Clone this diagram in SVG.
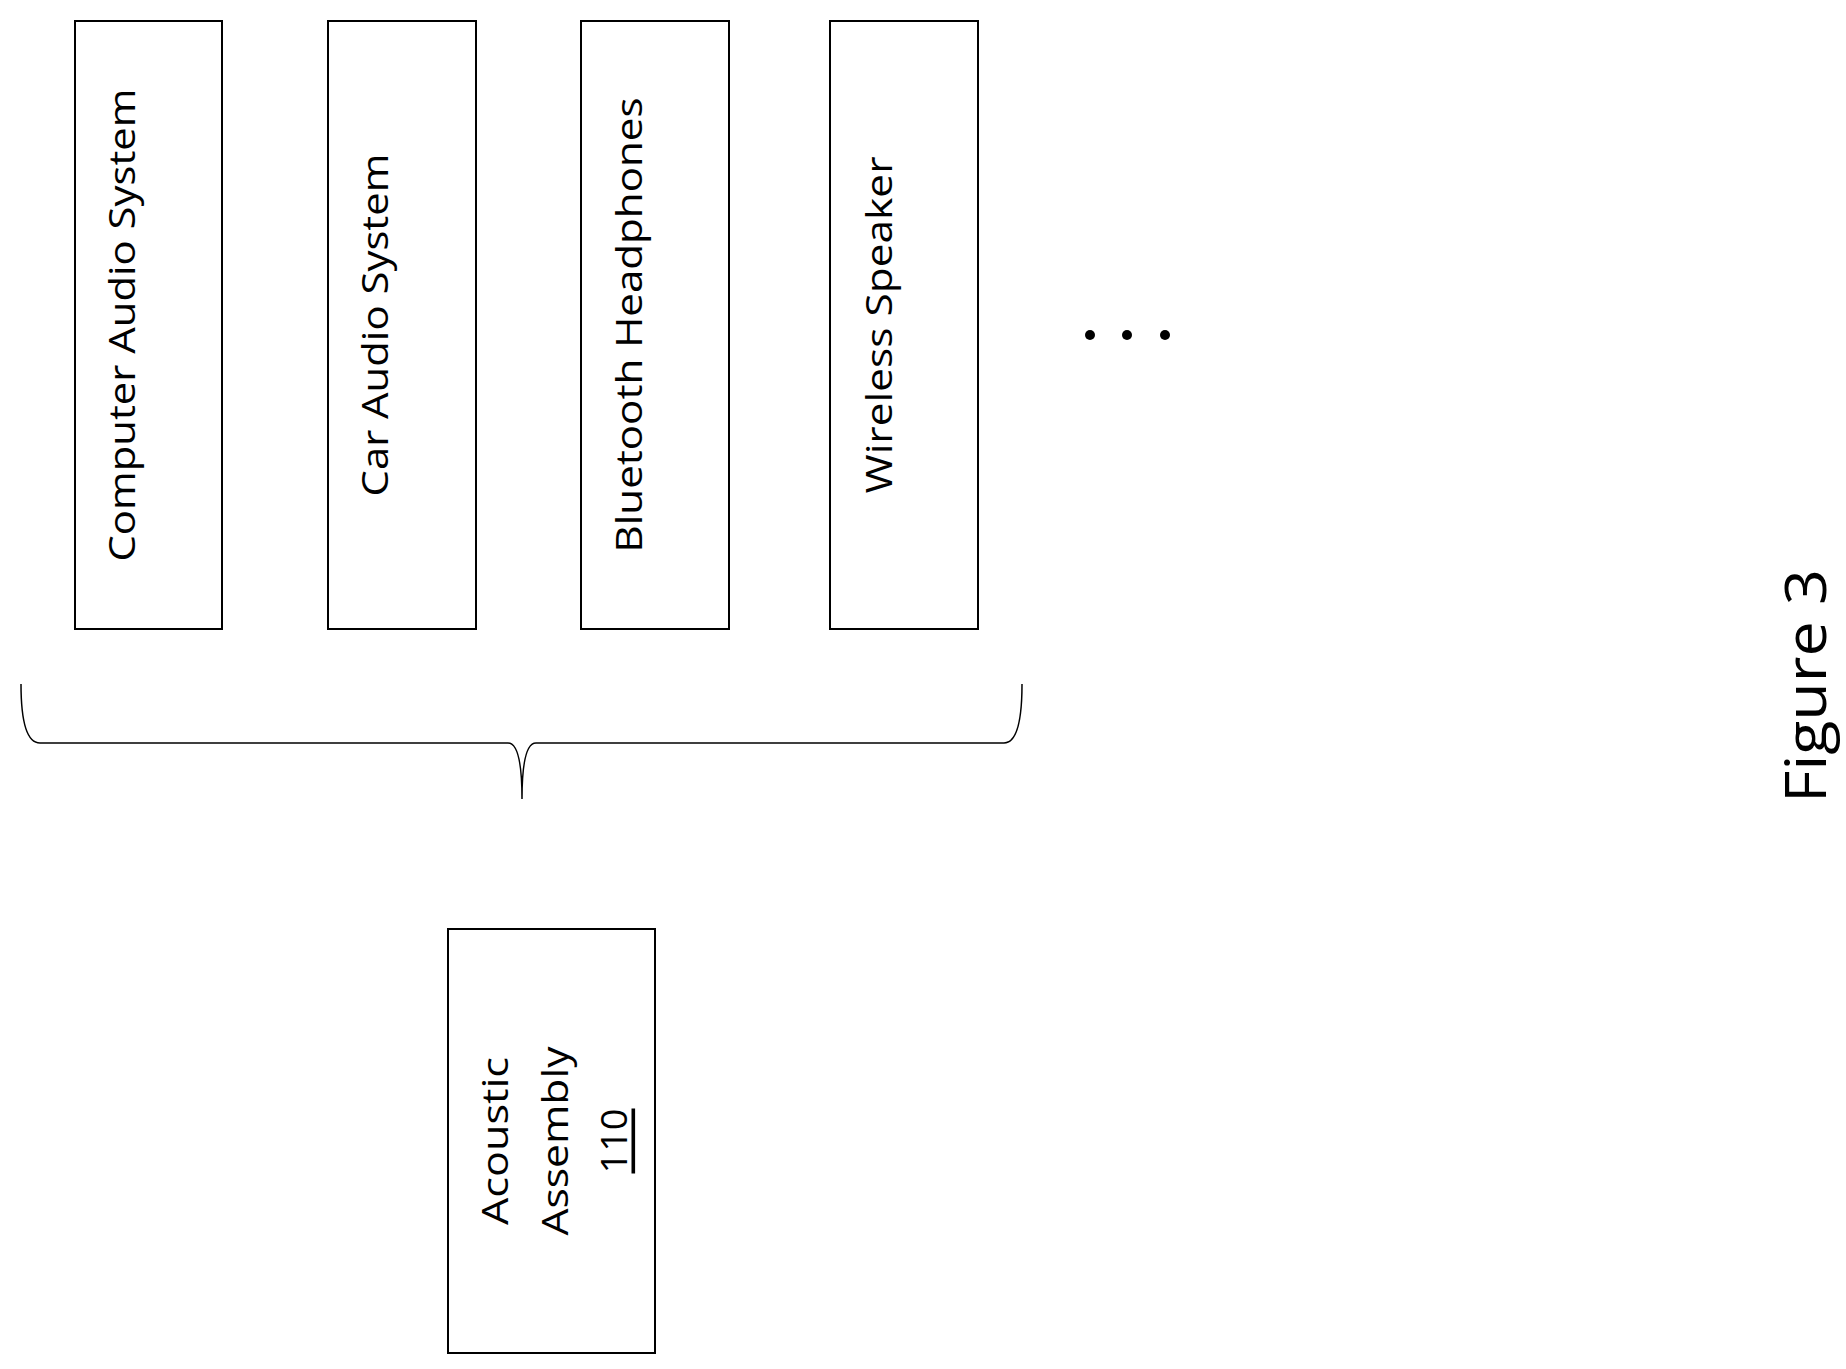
<svg xmlns="http://www.w3.org/2000/svg" width="1846" height="1369" viewBox="0 0 1846 1369">
<style>
.box{fill:#fff;stroke:#000;stroke-width:2}
.t{font-family:"Open Sans","Liberation Sans",sans-serif;font-size:36px;fill:#000;text-anchor:middle;dominant-baseline:central}
.c{fill:none;stroke:#000;stroke-width:1.5}
</style>
<rect width="1846" height="1369" fill="#fff"/>
<g id="n1"><rect class="box" x="75" y="21" width="147" height="608"/><text class="t" transform="translate(121,325) rotate(-90)" textLength="473" lengthAdjust="spacingAndGlyphs">Computer Audio System</text></g>
<g id="n2"><rect class="box" x="328" y="21" width="148" height="608"/><text class="t" transform="translate(374,325) rotate(-90)" textLength="343" lengthAdjust="spacingAndGlyphs">Car Audio System</text></g>
<g id="n3"><rect class="box" x="581" y="21" width="148" height="608"/><text class="t" transform="translate(628,325) rotate(-90)" textLength="455" lengthAdjust="spacingAndGlyphs">Bluetooth Headphones</text></g>
<g id="n4"><rect class="box" x="830" y="21" width="148" height="608"/><text class="t" transform="translate(878,325) rotate(-90)" textLength="337" lengthAdjust="spacingAndGlyphs">Wireless Speaker</text></g>
<g id="dots"><circle cx="1090" cy="335" r="5"/><circle cx="1127" cy="335" r="5"/><circle cx="1165" cy="335" r="5"/></g>
<g id="connectors"><path class="c" d="M21,684 Q21,743 40,743 L508,743 Q522,743 522,799 Q522,743 536,743 L1004,743 Q1022,743 1022,684"/></g>
<g id="n5"><rect class="box" x="448" y="929" width="207" height="424"/>
<g transform="translate(554,1141) rotate(-90)">
<text class="t" x="0" y="-60" textLength="168" lengthAdjust="spacingAndGlyphs">Acoustic</text>
<text class="t" x="0" y="0" textLength="189" lengthAdjust="spacingAndGlyphs">Assembly</text>
<text class="t" x="0" y="59" text-decoration="underline" textLength="65" lengthAdjust="spacingAndGlyphs">110</text>
</g></g>
<g id="fig"><text class="t" style="font-size:56px" transform="translate(1804,686) rotate(-90)" textLength="234" lengthAdjust="spacingAndGlyphs">Figure 3</text></g>
</svg>
